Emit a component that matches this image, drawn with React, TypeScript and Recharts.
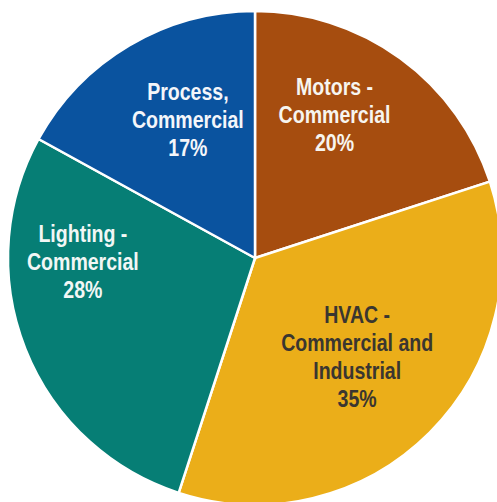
import React from 'react';
import { PieChart, Pie, Cell } from 'recharts';

const names = [
  'Motors -\nCommercial',
  'HVAC -\nCommercial and\nIndustrial',
  'Lighting -\nCommercial',
  'Process,\nCommercial',
];
const shares = [20, 35, 28, 17];
const colors = ['#A64D0F', '#EBAE19', '#067E75', '#0A539F'];
const textColors = ['#F7F5EF', '#3A3630', '#F2F7F5', '#F4F6FA'];

// label placement relative to each slice's mid angle (degrees, fraction of radius)
const labelNudge = [
  { dAngle: 7, k: 0.664 },
  { dAngle: 1, k: 0.575 },
  { dAngle: -20.3, k: 0.697 },
  { dAngle: -4.6, k: 0.62 },
];

const data = names.map((name, i) => ({ name, value: shares[i] }));

const RAD = Math.PI / 180;
const LINE_H = 28;

const renderLabel = (props: any) => {
  const { cx, cy, midAngle, outerRadius, index, name, value } = props;
  const nudge = labelNudge[index];
  const a = (midAngle + nudge.dAngle) * RAD;
  const r = outerRadius * nudge.k;
  const x = cx + r * Math.cos(a);
  const y = cy - r * Math.sin(a);
  const lines = [...String(name).split('\n'), `${value}%`];
  // first baseline so the block is vertically centred on (x, y)
  const startY = -((lines.length - 1) * LINE_H) / 2 + 8;
  return (
    <g transform={`translate(${x},${y}) scale(0.85,1)`}>
      <text
        textAnchor="middle"
        fill={textColors[index]}
        fontFamily="'Liberation Sans', Arial, sans-serif"
        fontWeight="bold"
        fontSize={23}
      >
        {lines.map((line, i) => (
          <tspan key={i} x={0} y={startY + i * LINE_H}>
            {line}
          </tspan>
        ))}
      </text>
    </g>
  );
};

export default function App() {
  return (
    <div style={{ position: 'absolute', left: 0, top: 0, width: 497, height: 502, background: '#fff' }}>
      <PieChart width={497} height={502} margin={{ top: 0, right: 0, bottom: 0, left: 0 }}>
        <Pie
          data={data}
          dataKey="value"
          nameKey="name"
          cx={255}
          cy={258}
          outerRadius={247}
          startAngle={90}
          endAngle={-270}
          stroke="#ffffff"
          strokeWidth={2.5}
          label={renderLabel}
          labelLine={false}
          isAnimationActive={false}
        >
          {data.map((d, i) => (
            <Cell key={d.name} fill={colors[i]} />
          ))}
        </Pie>
      </PieChart>
    </div>
  );
}
